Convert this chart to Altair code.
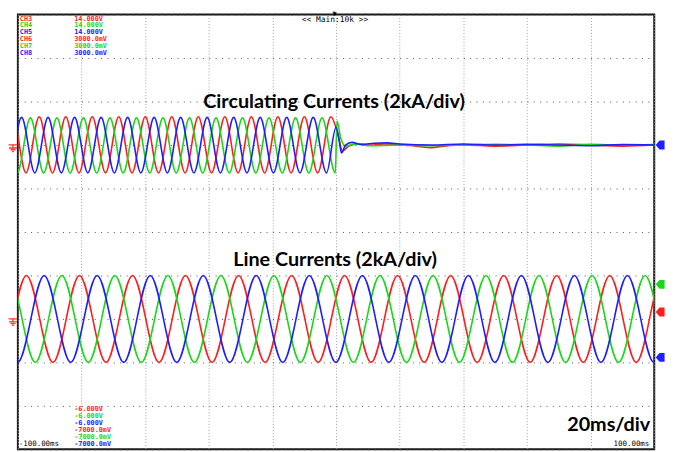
import altair as alt
import pandas as pd

# ---------------- values ----------------
T_DOMAIN = [-100, 100]                 # ms  (20 ms/div, 10 div)
I_DOMAIN = [-10, 10]                   # kA  (2 kA/div, 10 div)
T_GRID = [-100, -80, -60, -40, -20, 0, 20, 40, 60, 80, 100]
I_GRID = [-10, -8, -6, -4, -2, 0, 2, 4, 6, 8, 10]

PHASES = ["red", "green", "blue"]
PHASE_COLORS = ["#ff1e1e", "#18d818", "#1e1eff"]

# Line currents (60 Hz), displayed around -4 kA; successive peaks every half period
LINE_OFFSET = -4.0
LINE_HALF_PERIOD = 8.333
LINE_FIRST_PEAK_T = {"red": -113.97, "green": -111.19, "blue": -116.74}
LINE_PEAKS = {
    "red":   [2.0, -2.0, 2.0, -2.0, 2.0, -2.0, 2.0, -2.0, 2.0, -2.0, 2.0, -2.0, 2.0, -2.0,
              2.0, -2.0, 2.0, -2.0, 2.0, -2.0, 2.0, -2.0, 2.0, -2.0, 2.0, -2.0, 2.0, -2.0],
    "green": [-2.0, 2.0, -2.0, 2.0, -2.0, 2.0, -2.0, 2.0, -2.0, 2.0, -2.0, 2.0, -2.0, 2.0,
              -2.0, 2.0, -2.0, 2.0, -2.0, 2.0, -2.0, 2.0, -2.0, 2.0, -2.0, 2.0, -2.0, 2.0],
    "blue":  [-2.0, 2.0, -2.0, 2.0, -2.0, 2.0, -2.0, 2.0, -2.0, 2.0, -2.0, 2.0, -2.0, 2.0,
              -2.0, 2.0, -2.0, 2.0, -2.0, 2.0, -2.0, 2.0, -2.0, 2.0, -2.0, 2.0, -2.0, 2.0],
}

# Circulating currents (120 Hz) displayed around +4 kA; peaks until the event at t = 0
CIRC_OFFSET = 4.0
CIRC_HALF_PERIOD = 4.1667
CIRC_FIRST_PEAK_T = {"red": -105.79, "green": -104.40, "blue": -107.18}
CIRC_PEAKS = {
    "red":   [-1.28, 1.30, -1.28, 1.30, -1.28, 1.30, -1.28, 1.30, -1.28, 1.30, -1.28, 1.30, -1.28,
              1.30, -1.28, 1.30, -1.28, 1.30, -1.28, 1.30, -1.28, 1.30, -1.28, 1.30, -1.28, 1.30],
    "green": [1.25, -1.28, 1.25, -1.28, 1.25, -1.28, 1.25, -1.28, 1.25, -1.28, 1.25, -1.28, 1.25,
              -1.28, 1.25, -1.28, 1.25, -1.28, 1.25, -1.28, 1.25, -1.28, 1.25, -1.28, 1.25, -1.28],
    "blue":  [1.27, -1.28, 1.27, -1.28, 1.27, -1.28, 1.27, -1.28, 1.27, -1.28, 1.27, -1.28, 1.27,
              -1.28, 1.27, -1.28, 1.27, -1.28, 1.27, -1.28, 1.27, -1.28, 1.27, -1.28, 1.27, -1.28],
}
# after the event: (time ms, kA) points
CIRC_AFTER = {
    "red":   [(0.5, 0.55), (2.0, -0.27), (4.0, -0.05), (7.0, 0.05), (11.0, 0.0), (15.0, 0.05),
              (20.0, 0.02), (25.0, -0.05), (30.0, -0.12), (34.0, -0.05), (40.0, 0.0), (50.0, -0.05),
              (60.0, 0.0), (70.0, 0.05), (80.0, 0.0), (90.0, -0.05), (100.0, 0.0)],
    "green": [(0.3, 1.1), (1.5, 0.3), (3.0, -0.05), (6.0, 0.05), (10.0, -0.03), (15.0, -0.02),
              (20.0, 0.0), (30.0, -0.03), (40.0, 0.0), (50.0, 0.03), (60.0, 0.0), (70.0, -0.05),
              (80.0, 0.03), (90.0, 0.0), (100.0, 0.02)],
    "blue":  [(0.0, 0.82), (1.0, 0.18), (1.7, -0.36), (3.0, 0.0), (5.0, 0.12), (8.0, 0.03),
              (12.0, 0.08), (16.0, 0.1), (20.0, 0.05), (30.0, 0.0), (40.0, 0.05), (50.0, 0.0),
              (60.0, 0.03), (70.0, 0.0), (80.0, -0.03), (90.0, 0.02), (100.0, 0.0)],
}

# level markers on the right edge (kA on screen)
MARK_PHASES = ["blue", "green", "red", "blue"]
MARK_LEVELS = [4.0, -2.41, -3.68, -5.77]
GROUND_LEVELS = [4.0, -4.0]

LEGEND_CH = ["CH3", "CH4", "CH5", "CH6", "CH7", "CH8"]
LEGEND_SCALE = ["14.000V", "14.000V", "14.000V", "3000.0mV", "3000.0mV", "3000.0mV"]
LEGEND_OFFSET = ["-6.000V", "-6.000V", "-6.000V", "-7000.0mV", "-7000.0mV", "-7000.0mV"]
LEGEND_PHASE = ["red", "green", "blue", "red", "green", "blue"]

TITLE_TOP = "Circulating Currents (2kA/div)"
TITLE_BOTTOM = "Line Currents (2kA/div)"
TIMEBASE = "20ms/div"
ZOOM_LABEL = "<< Main:10k >>"
T_LEFT_LABEL = "-100.00ms"
T_RIGHT_LABEL = "100.00ms"

# ---------------- build tables ----------------
COLOR_OF = dict(zip(PHASES, PHASE_COLORS))
rows = []
for ph in PHASES:
    for k, v in enumerate(LINE_PEAKS[ph]):
        rows.append({"series": "line_" + ph, "phase": ph,
                     "t": LINE_FIRST_PEAK_T[ph] + k * LINE_HALF_PERIOD, "i": LINE_OFFSET + v})
    for k, v in enumerate(CIRC_PEAKS[ph]):
        rows.append({"series": "circ_" + ph, "phase": ph,
                     "t": CIRC_FIRST_PEAK_T[ph] + k * CIRC_HALF_PERIOD, "i": CIRC_OFFSET + v})
    for t, v in CIRC_AFTER[ph]:
        rows.append({"series": "circ_" + ph, "phase": ph, "t": t, "i": CIRC_OFFSET + v})
waves = pd.DataFrame(rows)

x_enc = alt.X("t:Q", scale=alt.Scale(domain=T_DOMAIN, nice=False, zero=False),
              axis=alt.Axis(values=T_GRID, grid=True, gridDash=[1, 2], gridColor="#a0a0a0",
                            gridWidth=1, labels=False, ticks=False, domain=False, title=None))
y_enc = alt.Y("i:Q", scale=alt.Scale(domain=I_DOMAIN, nice=False, zero=False),
              axis=alt.Axis(values=I_GRID, grid=True, gridDash=[1, 5.44], gridColor="#505050",
                            gridWidth=1, labels=False, ticks=False, domain=False, title=None))
col_enc = alt.Color("phase:N", scale=alt.Scale(domain=PHASES, range=PHASE_COLORS), legend=None)

traces = alt.Chart(waves).mark_line(interpolate="monotone", strokeWidth=1.6, clip=True).encode(
    x=x_enc, y=y_enc, color=col_enc, detail="series:N", order="t:Q")

marks_df = pd.DataFrame({"phase": MARK_PHASES, "i": MARK_LEVELS})
arrow = "M -1 0 L -0.15 -1 L 1 -1 L 1 1 L -0.15 1 Z"
markers = alt.Chart(marks_df).mark_point(shape=arrow, size=80, filled=True, opacity=1).encode(
    x=alt.value(650), y=alt.Y("i:Q", scale=alt.Scale(domain=I_DOMAIN)), color=col_enc)

ground_df = pd.DataFrame({"i": GROUND_LEVELS})
gshape = "M -1 -0.7 L 1 -0.7 M 0 -0.7 L 0 0 M -0.9 0 L 0.9 0 M -0.55 0.4 L 0.55 0.4 M -0.2 0.8 L 0.2 0.8"
grounds = alt.Chart(ground_df).mark_point(shape=gshape, size=80, filled=False, color="#ff3030",
                                           strokeWidth=1.3, opacity=1, yOffset=3).encode(
    x=alt.value(-5), y=alt.Y("i:Q", scale=alt.Scale(domain=I_DOMAIN)))

# ---------------- annotation texts (pixel placement) ----------------
mono = "DejaVu Sans Mono"
leg_rows = []
for r in range(6):
    c = COLOR_OF[LEGEND_PHASE[r]]
    leg_rows.append({"text": LEGEND_CH[r], "px": 2, "py": 4 + 6.95 * r, "c": c})
    leg_rows.append({"text": LEGEND_SCALE[r], "px": 57, "py": 4 + 6.95 * r, "c": c})
    leg_rows.append({"text": LEGEND_OFFSET[r], "px": 57, "py": 399 + 7.1 * r, "c": c})
leg_df = pd.DataFrame(leg_rows)
legend_txt = alt.Chart(leg_df).mark_text(font=mono, fontSize=6.9, fontWeight="bold",
                                         align="left", baseline="middle").encode(
    x=alt.X("px:Q", scale=None), y=alt.Y("py:Q", scale=None), text="text:N",
    color=alt.Color("c:N", scale=None))

def one_text(txt, px, py, **kw):
    return alt.Chart(pd.DataFrame({"text": [txt]})).mark_text(**kw).encode(
        x=alt.value(px), y=alt.value(py), text="text:N")

t_left = one_text(T_LEFT_LABEL, 1, 435, font=mono, fontSize=7.5, align="left",
                  baseline="middle", color="#000000")
t_right = one_text(T_RIGHT_LABEL, 639, 435, font=mono, fontSize=7.5, align="right",
                   baseline="middle", color="#000000")
t_zoom = one_text(ZOOM_LABEL, 321, 6, font=mono, fontSize=8, align="center",
                  baseline="middle", color="#000000")
t_trig = one_text("T", 320, -4, font=mono, fontSize=6, fontWeight="bold", align="center",
                  baseline="top", color="#000000")
trig_arrow = alt.Chart(pd.DataFrame({"a": [0]})).mark_point(
    shape="triangle-down", size=14, filled=True, color="#000000", opacity=1).encode(
    x=alt.value(321), y=alt.value(-0.5))
big = "Lato"
title_top = one_text(TITLE_TOP, 320, 89, font=big, fontSize=20, fontWeight="bold",
                     align="center", baseline="middle", color="#000000")
title_bot = one_text(TITLE_BOTTOM, 321, 248, font=big, fontSize=20, fontWeight="bold",
                     align="center", baseline="middle", color="#000000")
timebase = one_text(TIMEBASE, 640, 415, font=big, fontSize=20, fontWeight="bold",
                    align="right", baseline="middle", color="#000000")

chart = alt.layer(traces, markers, grounds, legend_txt, t_left, t_right, t_zoom, t_trig, trig_arrow,
                  title_top, title_bot, timebase).properties(
    width=644, height=440, autosize="none",
    padding={"left": 10, "top": 4, "right": 19, "bottom": 0},
    background="#ffffff",
).configure_view(stroke="#1a1a1a", strokeWidth=2)

chart.save("out.html", embed_options={"renderer": "svg", "actions": False})
